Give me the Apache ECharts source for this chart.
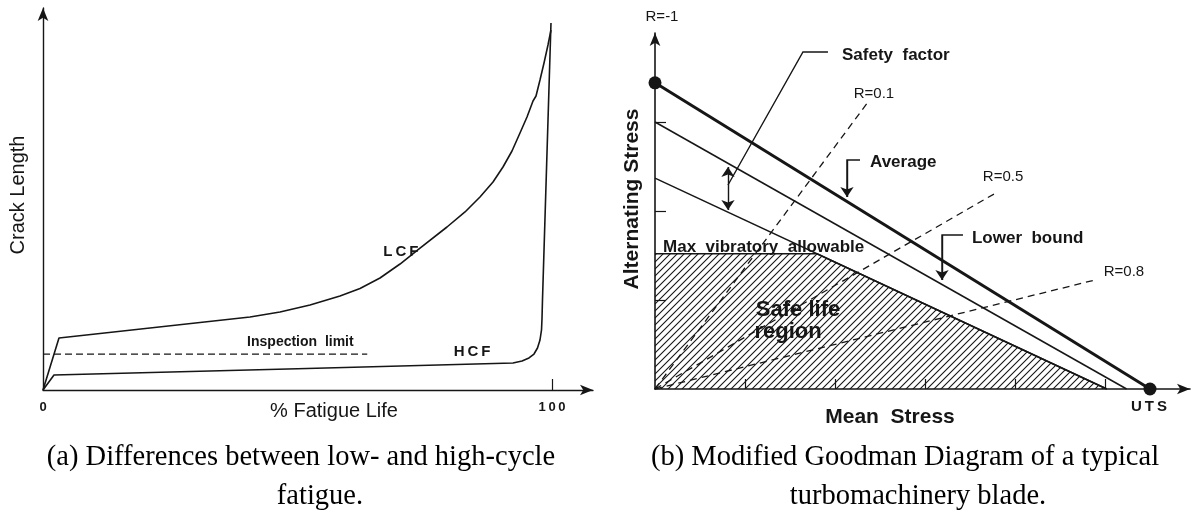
<!DOCTYPE html>
<html>
<head>
<meta charset="utf-8">
<script src="https://cdn.jsdelivr.net/npm/echarts@6/dist/echarts.min.js"></script>
<style>
  html, body { margin: 0; padding: 0; background: #fff; }
  #chart { width: 1193px; height: 517px; }
</style>
</head>
<body>
<div id="chart"></div>
<script>
// ---------- Panel (a): crack length vs. % fatigue life ----------
const lcfCurve = [[0, 0], [3.14, 13.61], [11.2, 14.79], [21.02, 16.23], [30.84, 17.67],
  [40.67, 19.11], [46.56, 20.42], [52.46, 22.25], [58.35, 24.61], [62.28, 26.57],
  [66.21, 29.32], [70.14, 32.98], [74.07, 37.17], [79.37, 42.67], [82.91, 46.6],
  [85.85, 50.52], [88.41, 54.45], [90.37, 58.38], [92.14, 62.57], [93.71, 67.28],
  [95.09, 71.47], [96.27, 75.65], [96.86, 76.96], [97.64, 81.15], [98.43, 85.6],
  [99.21, 90.31], [99.8, 94.24]];
const hcfCurve = [[0, 0], [2.16, 3.93], [50, 5.55], [92.34, 7.07], [94.11, 7.59],
  [95.48, 8.38], [96.46, 9.42], [97.15, 10.99], [97.64, 13.09], [97.94, 15.71],
  [98.04, 18.85], [98.13, 23.56], [99.8, 96.07]];
const inspectionLimit = [[0, 9.4], [63.7, 9.4]];
const fatigueTicks = [100];
const fatigueTickLabels = [0, 100];
const panelALabels = [
  { text: 'LCF', at: [70.3, 36.1] },
  { text: 'HCF', at: [84.3, 9.95] }
];
const inspectionLabel = [{ text: 'Inspection  limit', at: [40.1, 12.6] }];

// ---------- Panel (b): modified Goodman diagram ----------
const averageLine = [[0, 3.44], [5.5, 0]];
const lowerBoundLine = [[0, 3.0], [5.24, 0]];
const allowableLine = [[0, 2.37], [5.02, 0]];
const safeRegion = [[0, 1.52], [1.80, 1.52], [5.02, 0]];
const rLines = {
  'R=0.1': [[0, 0], [2.356, 3.21]],
  'R=0.5': [[0, 0], [3.8, 2.21]],
  'R=0.8': [[0, 0], [4.87, 1.22]]
};
const endPoints = [[0, 3.44], [5.5, 0]];
const meanTicks = [1, 2, 3, 4, 5];
const altTicks = [1, 2, 3];
const safetyLeader = [[1.922, 3.787], [1.644, 3.787], [0.811, 2.292]];
const safetyArrow = [[0.811, 2.494], [0.811, 2.011]];
const averageLeader = [[2.278, 2.573], [2.133, 2.573], [2.133, 2.157]];
const lowerLeader = [[3.422, 1.730], [3.189, 1.730], [3.189, 1.225]];
const rLabels = [
  { text: 'R=0.1', at: [2.433, 3.315] },
  { text: 'R=0.5', at: [3.867, 2.382] },
  { text: 'R=0.8', at: [5.211, 1.315] }
];
const calloutLabels = [
  { text: 'Safety  factor', at: [2.078, 3.753] },
  { text: 'Average', at: [2.389, 2.551] },
  { text: 'Lower  bound', at: [3.522, 1.697] },
  { text: 'Max  vibratory  allowable', at: [0.089, 1.596] }
];
const regionLabels = [
  { text: 'Safe life', at: [1.589, 0.888] },
  { text: 'region', at: [1.478, 0.640] }
];

const ink = '#161616';
const sans = 'Liberation Sans, Arial, sans-serif';
const serif = 'Liberation Serif, Times New Roman, serif';
const spaced = s => String(s).split('').join('\u2009');

// diagonal "////" hatch tile
function hatchPattern() {
  const c = document.createElement('canvas');
  c.width = 7; c.height = 7;
  const g = c.getContext('2d');
  g.strokeStyle = ink; g.lineWidth = 1.1;
  g.beginPath();
  g.moveTo(-1, 8); g.lineTo(8, -1);
  g.moveTo(-1, 1); g.lineTo(1, -1);
  g.moveTo(6, 8); g.lineTo(8, 6);
  g.stroke();
  return c;
}

function line(idx, data, width, type) {
  return {
    type: 'line', xAxisIndex: idx, yAxisIndex: idx, data: data, symbol: 'none',
    lineStyle: { color: ink, width: width, type: type || 'solid' }, silent: true
  };
}
function texts(idx, items, font, align, fmt) {
  return {
    type: 'scatter', xAxisIndex: idx, yAxisIndex: idx, symbolSize: 0, silent: true, z: 6,
    clip: false,
    itemStyle: { color: 'rgba(0,0,0,0)', opacity: 1 },
    data: items.map(d => ({ value: d.at, name: fmt ? fmt(d.text) : d.text })),
    label: Object.assign({
      show: true, position: 'inside', formatter: '{b}', color: ink, opacity: 1,
      align: align || 'center', verticalAlign: 'middle', fontFamily: sans
    }, font)
  };
}
// polyline leader; the final segment is redrawn as a straight line carrying the arrowheads
function leader(idx, coords, symbol) {
  const base = {
    type: 'lines', coordinateSystem: 'cartesian2d', xAxisIndex: idx, yAxisIndex: idx,
    silent: true, z: 4, lineStyle: { color: ink, width: 1.4, opacity: 1 }
  };
  const out = [];
  if (coords.length > 2) {
    out.push(Object.assign({}, base, { polyline: true, symbol: 'none', data: [{ coords: coords }] }));
  }
  if (symbol) {
    out.push(Object.assign({}, base, {
      polyline: false, symbol: symbol, symbolSize: 10,
      itemStyle: { color: ink },
      data: [{ coords: coords.slice(-2) }]
    }));
  }
  return out;
}

const axisLineStyle = (w) => ({ color: ink, width: w });

const option = {
  animation: false,
  backgroundColor: '#fff',
  grid: [
    { left: 43, top: 8, width: 550, height: 382 },
    { left: 655, top: 33, width: 535, height: 356 }
  ],
  xAxis: [
    {
      gridIndex: 0, type: 'value', min: 0, max: 550 / 5.09,
      axisLine: { show: true, symbol: ['none', 'arrow'], symbolSize: [8, 13], lineStyle: axisLineStyle(1.4) },
      axisTick: { show: true, inside: true, length: 11, customValues: fatigueTicks, lineStyle: { color: ink, width: 1.2 } },
      axisLabel: { show: true, customValues: fatigueTickLabels, formatter: v => spaced(v), color: ink, fontFamily: sans, fontWeight: 'bold', fontSize: 13, margin: 11 },
      splitLine: { show: false }
    },
    {
      gridIndex: 1, type: 'value', min: 0, max: 535 / 90,
      axisLine: { show: true, symbol: ['none', 'arrow'], symbolSize: [8, 13], lineStyle: axisLineStyle(1.6) },
      axisTick: { show: true, inside: true, length: 10, customValues: meanTicks, lineStyle: { color: ink, width: 1.2 } },
      axisLabel: { show: false },
      splitLine: { show: false }
    }
  ],
  yAxis: [
    {
      gridIndex: 0, type: 'value', min: 0, max: 100,
      axisLine: { show: true, symbol: ['none', 'arrow'], symbolSize: [8, 13], lineStyle: axisLineStyle(1.4) },
      axisTick: { show: false }, axisLabel: { show: false }, splitLine: { show: false }
    },
    {
      gridIndex: 1, type: 'value', min: 0, max: 4,
      axisLine: { show: true, symbol: ['none', 'arrow'], symbolSize: [8, 13], lineStyle: axisLineStyle(1.6) },
      axisTick: { show: true, inside: true, length: 11, customValues: altTicks, lineStyle: { color: ink, width: 1.2 } },
      axisLabel: { show: false }, splitLine: { show: false }
    }
  ],
  series: [
    line(0, lcfCurve, 1.6),
    line(0, hcfCurve, 1.6),
    line(0, inspectionLimit, 1.3, [7, 4]),
    texts(0, panelALabels, { fontSize: 15, fontWeight: 'bold' }, 'center', spaced),
    texts(0, inspectionLabel, { fontSize: 14, fontWeight: 'bold' }, 'left'),

    Object.assign(line(1, safeRegion, 1.5), {
      z: 3,
      areaStyle: { color: { image: hatchPattern(), repeat: 'repeat' }, opacity: 1 }
    }),
    line(1, averageLine, 3),
    line(1, lowerBoundLine, 1.5),
    line(1, allowableLine, 1.5),
    ...Object.keys(rLines).map(k => line(1, rLines[k], 1.3, [7, 5])),
    {
      type: 'scatter', xAxisIndex: 1, yAxisIndex: 1, data: endPoints, symbolSize: 13,
      itemStyle: { color: ink, opacity: 1 }, clip: false, silent: true, z: 5
    },
    ...leader(1, safetyLeader, null),
    ...leader(1, safetyArrow, ['arrow', 'arrow']),
    ...leader(1, averageLeader, ['none', 'arrow']),
    ...leader(1, lowerLeader, ['none', 'arrow']),
    texts(1, rLabels, { fontSize: 15 }),
    texts(1, calloutLabels, { fontSize: 17, fontWeight: 'bold' }, 'left'),
    texts(1, regionLabels, { fontSize: 22, fontWeight: 'bold' })
  ],
  graphic: [
    { type: 'text', x: 18, y: 195, rotation: Math.PI / 2,
      style: { text: 'Crack Length', fill: ink, font: '20px ' + sans, textAlign: 'center', textVerticalAlign: 'middle' } },
    { type: 'text', x: 334, y: 411,
      style: { text: '% Fatigue Life', fill: ink, font: '20px ' + sans, textAlign: 'center', textVerticalAlign: 'middle' } },
    { type: 'text', x: 632, y: 199, rotation: Math.PI / 2,
      style: { text: 'Alternating Stress', fill: ink, font: 'bold 21px ' + sans, textAlign: 'center', textVerticalAlign: 'middle' } },
    { type: 'text', x: 890, y: 417,
      style: { text: 'Mean  Stress', fill: ink, font: 'bold 21px ' + sans, textAlign: 'center', textVerticalAlign: 'middle' } },
    { type: 'text', x: 662, y: 17,
      style: { text: 'R=-1', fill: ink, font: '15px ' + sans, textAlign: 'center', textVerticalAlign: 'middle' } },
    { type: 'text', x: 1149, y: 407,
      style: { text: spaced('UTS'), fill: ink, font: 'bold 15px ' + sans, textAlign: 'center', textVerticalAlign: 'middle' } },
    { type: 'text', x: 301, y: 458,
      style: { text: '(a) Differences between low- and high-cycle', fill: '#000', font: '28.5px ' + serif, textAlign: 'center', textVerticalAlign: 'middle' } },
    { type: 'text', x: 320, y: 497,
      style: { text: 'fatigue.', fill: '#000', font: '28.5px ' + serif, textAlign: 'center', textVerticalAlign: 'middle' } },
    { type: 'text', x: 905, y: 458,
      style: { text: '(b) Modified Goodman Diagram of a typical', fill: '#000', font: '28.5px ' + serif, textAlign: 'center', textVerticalAlign: 'middle' } },
    { type: 'text', x: 918, y: 497,
      style: { text: 'turbomachinery blade.', fill: '#000', font: '28.5px ' + serif, textAlign: 'center', textVerticalAlign: 'middle' } }
  ]
};

const chart = echarts.init(document.getElementById('chart'), null, { renderer: 'canvas' });
chart.setOption(option);
</script>
</body>
</html>
